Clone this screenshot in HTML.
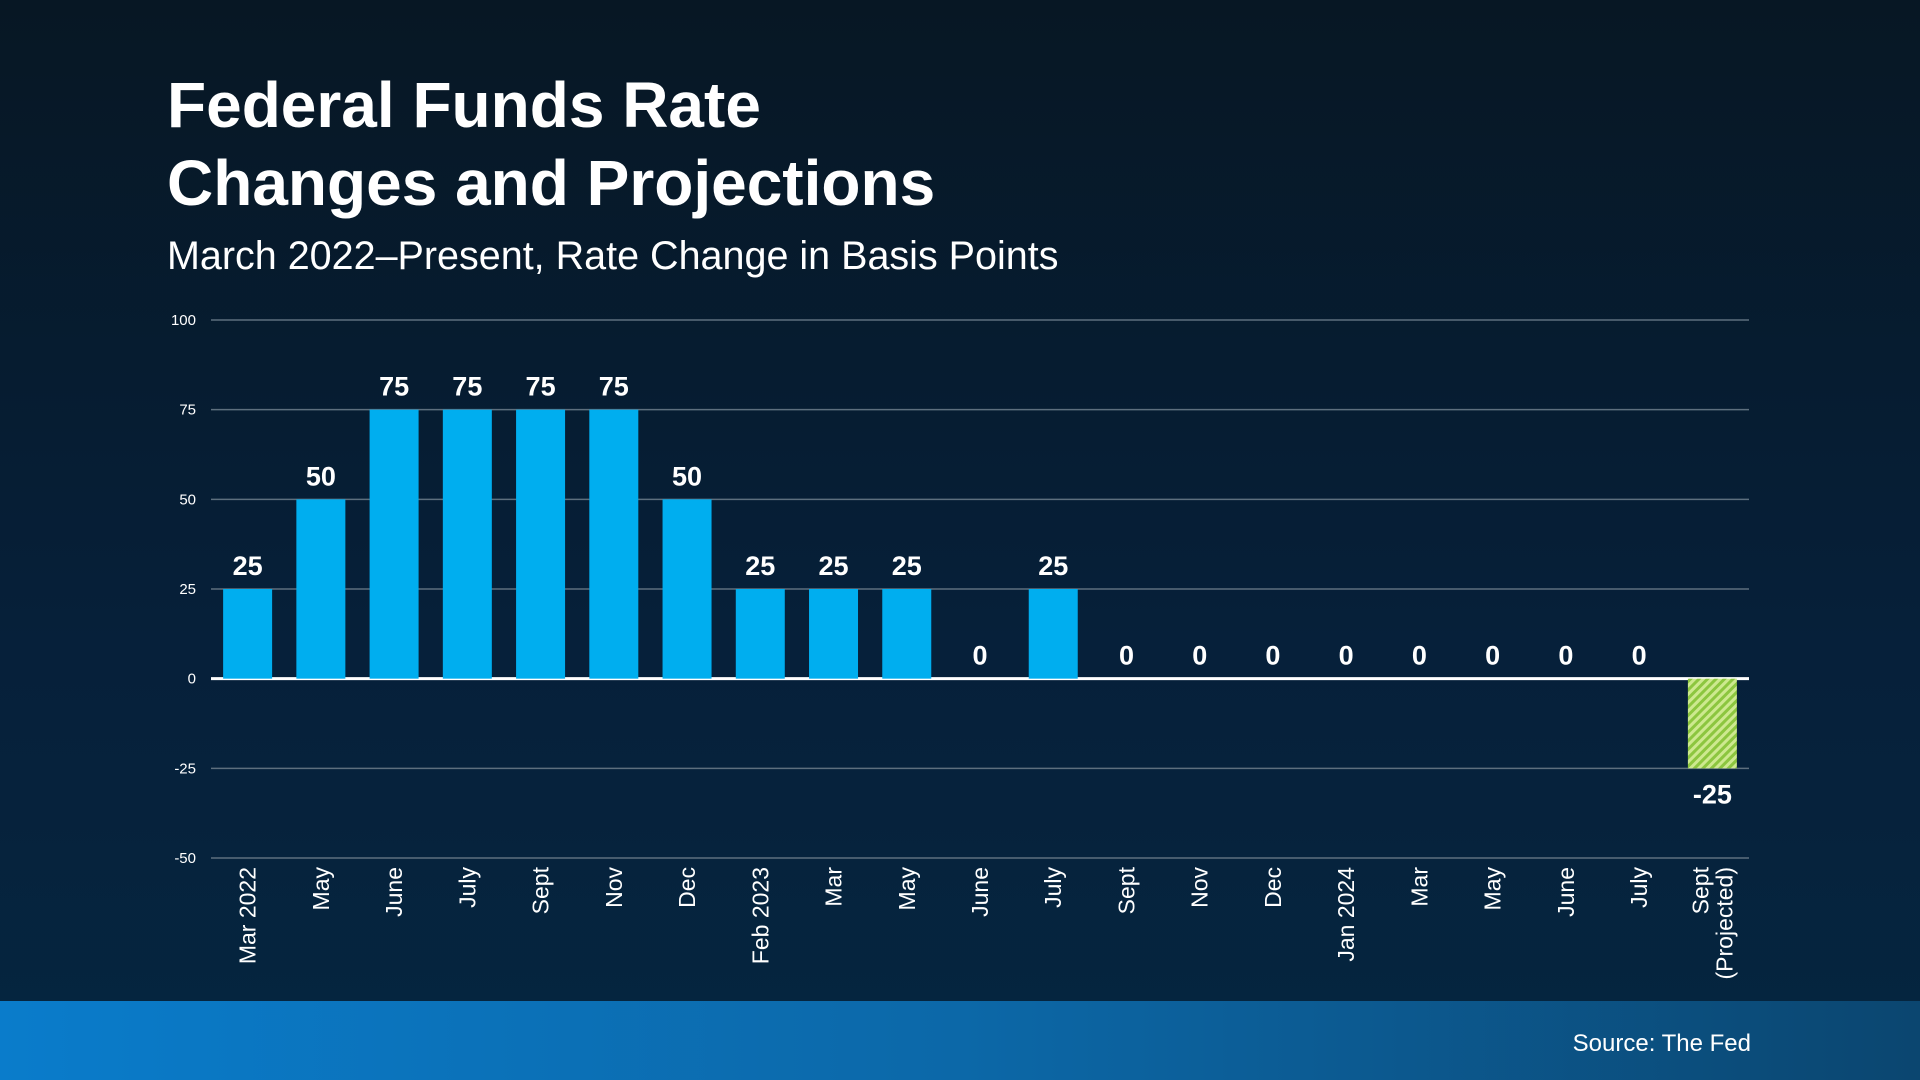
<!DOCTYPE html>
<html><head><meta charset="utf-8"><style>
html,body{margin:0;padding:0}
body{width:1920px;height:1080px;overflow:hidden;position:relative;font-family:"Liberation Sans",sans-serif;
background:linear-gradient(180deg,#071724 0%,#06203a 60%,#052640 100%);}
#title{position:absolute;left:167px;top:66px;color:#fff;font-weight:bold;font-size:64px;line-height:78px;margin:0}
#subtitle{position:absolute;left:167px;top:234px;color:#fff;font-size:39.5px;margin:0}
#footer{position:absolute;left:0;top:1001px;width:1920px;height:79px;background:linear-gradient(90deg,#0a7ccb 0%,#0c68a8 50%,#0b4670 100%)}
#source{position:absolute;right:169px;top:1030px;color:#fff;font-size:24px}
svg{position:absolute;left:0;top:0}
</style></head><body>
<h1 id="title">Federal Funds Rate<br>Changes and Projections</h1>
<p id="subtitle">March 2022–Present, Rate Change in Basis Points</p>
<div id="footer"></div>
<div id="source">Source: The Fed</div>
<svg id="chart" width="1920" height="1080">
<defs><pattern id="hatch" width="6" height="6" patternUnits="userSpaceOnUse" patternTransform="rotate(45)">
<rect width="6" height="6" fill="#cde98f"/><rect width="3" height="6" fill="#8cc63f"/></pattern></defs>
</svg>
<script>
const categories=["Mar 2022","May","June","July","Sept","Nov","Dec","Feb 2023","Mar","May","June","July","Sept","Nov","Dec","Jan 2024","Mar","May","June","July","Sept|(Projected)"];
const values=[25,50,75,75,75,75,50,25,25,25,0,25,0,0,0,0,0,0,0,0,-25];
const projected=[false,false,false,false,false,false,false,false,false,false,false,false,false,false,false,false,false,false,false,false,true];
const ticks=[100,75,50,25,0,-25,-50];
const svg=document.getElementById('chart');
const NS='http://www.w3.org/2000/svg';
const X0=211,X1=1749,Y100=320,Ym50=858;
const y=v=>Y100+(100-v)*(Ym50-Y100)/150;
const band=(X1-X0)/categories.length;
const xc=i=>X0+band*(i+0.5);
const bw=49;
function mk(t,a){const e=document.createElementNS(NS,t);for(const k in a)e.setAttribute(k,a[k]);svg.appendChild(e);return e;}
ticks.forEach(t=>{
 const l=mk('line',{x1:X0,x2:X1,y1:y(t),y2:y(t),stroke:t===0?'#ffffff':'#5d6f7e','stroke-width':t===0?3:1.5});
 
 
 const tx=mk('text',{x:196,y:y(t)+5,'text-anchor':'end',fill:'#fff','font-size':15});
 tx.textContent=t;
 
 
});
categories.forEach((c,i)=>{
 const v=values[i];
 if(v!==0){
  const r=mk('rect',{x:xc(i)-bw/2,y:Math.min(y(v),y(0)),width:bw,height:Math.abs(y(v)-y(0)),fill:projected[i]?'url(#hatch)':'#00aeef'});
  
  
 }
 const vy=v>=0?y(v)-14:y(v)+35;
 const vl=mk('text',{x:xc(i),y:vy,'text-anchor':'middle',fill:'#fff','font-size':27,'font-weight':'bold'});
 vl.textContent=v;
 
 
 const parts=c.split('|');
 const g=mk('text',{transform:`translate(${xc(i)},867) rotate(-90)`,'text-anchor':'end',fill:'#fff','font-size':23});
 
 
 parts.forEach((p,k)=>{const ts=document.createElementNS(NS,'tspan');ts.setAttribute('x',0);ts.setAttribute('y',(k-(parts.length-1)/2)*24+8);ts.textContent=p;g.appendChild(ts);});
});
</script>
</body></html>
